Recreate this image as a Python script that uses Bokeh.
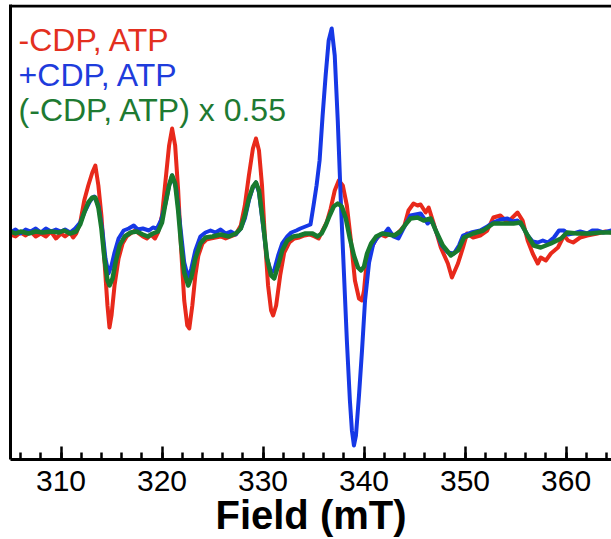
from bokeh.plotting import figure
from bokeh.models import FixedTicker, SingleIntervalTicker, Range1d, Label, Span
from bokeh.embed import file_html
from bokeh.resources import INLINE

# ---- data (field in mT, EPR intensity in arbitrary units) ----
field_red = [305.0, 305.5, 306.0, 306.5, 307.0, 307.5, 308.0, 308.5, 309.0, 309.5, 310.0, 310.4,
             310.9, 311.2, 311.5, 311.9, 312.3, 312.7, 313.1, 313.4, 313.7, 314.0, 314.3, 314.6,
             314.8, 315.0, 315.3, 315.7, 316.1, 316.5, 316.9, 317.3, 317.7, 318.1, 318.5, 318.9,
             319.3, 319.6, 320.0, 320.3, 320.7, 321.0, 321.3, 321.6, 321.9, 322.2, 322.5, 322.7,
             323.0, 323.3, 323.6, 324.0, 324.4, 324.8, 325.3, 325.8, 326.3, 326.8, 327.3, 327.8,
             328.2, 328.6, 329.0, 329.3, 329.6, 329.9, 330.2, 330.5, 330.8, 331.0, 331.3, 331.7,
             332.1, 332.6, 333.1, 333.6, 334.1, 334.6, 335.1, 335.5, 335.9, 336.3, 336.7, 337.1,
             337.5, 337.9, 338.3, 338.7, 339.1, 339.5, 339.8, 340.0, 340.2, 340.6, 341.1, 341.6,
             342.1, 342.6, 343.1, 343.6, 344.0, 344.4, 344.9, 345.3, 345.6, 346.1, 346.4, 346.9,
             347.6, 348.3, 348.7, 349.3, 349.8, 350.2, 350.8, 351.5, 352.2, 352.8, 353.5, 354.2,
             354.7, 355.2, 355.7, 356.2, 356.7, 357.2, 357.5, 358.0, 358.5, 359.2, 359.8, 360.2,
             360.7, 361.4, 362.1, 363.1, 363.9, 364.5]
int_red = [-1, -3, 1, -2, 2, -3, 0, -3, 2, -5, 0, -3,
           1, -4, 0, 11, 33, 48, 61, 68, 48, 18, -27, -72,
           -94, -82, -52, -25, -10, -3, 0, 3, 0, -3, -5, -1,
           -5, 1, 18, 48, 88, 105, 88, 43, -17, -67, -92, -95,
           -72, -42, -22, -10, -6, -5, -4, -3, -5, -3, -1, 8,
           28, 58, 85, 95, 83, 48, -7, -52, -77, -82, -72, -42,
           -19, -9, -5, -4, -2, -1, -3, -5, 3, 11, 25, 43,
           53, 48, 28, -7, -47, -65, -67, -57, -35, -17, -7, -1,
           -3, 0, -2, 3, 8, 23, 30, 28, 29, 21, 26, 10,
           -14, -30, -44, -30, -14, 0, -4, -2, 3, 16, 18, 11,
           16, 21, 13, -7, -20, -30, -24, -27, -20, -14, -2, -7,
           -9, -4, -2, 0, 2, 1]

field_blue = [305.0, 305.5, 306.0, 306.5, 307.0, 307.5, 308.0, 308.5, 309.0, 309.5, 310.0, 310.4,
              310.9, 311.4, 311.9, 312.4, 312.9, 313.3, 313.7, 314.1, 314.4, 314.7, 315.0, 315.3,
              315.7, 316.2, 316.7, 317.2, 317.6, 318.1, 318.7, 319.1, 319.5, 319.9, 320.3, 320.7,
              321.0, 321.4, 321.8, 322.2, 322.6, 322.9, 323.3, 323.8, 324.3, 324.8, 325.3, 325.8,
              326.3, 326.8, 327.3, 327.8, 328.2, 328.6, 329.0, 329.3, 329.6, 330.0, 330.4, 330.8,
              331.1, 331.5, 331.9, 332.4, 332.8, 333.3, 333.7, 334.2, 334.7, 335.0, 335.3, 335.6,
              335.9, 336.2, 336.5, 336.8, 337.1, 337.4, 337.7, 338.0, 338.3, 338.6, 338.8, 339.0,
              339.2, 339.5, 339.8, 340.1, 340.5, 340.9, 341.3, 341.7, 342.1, 342.4, 342.9, 343.4,
              343.9, 344.6, 345.1, 345.6, 346.3, 346.7, 347.1, 347.7, 348.3, 348.9, 349.4, 349.8,
              350.6, 351.5, 352.2, 352.8, 353.5, 354.2, 354.7, 355.2, 355.7, 356.2, 356.7, 357.2,
              357.7, 358.2, 358.8, 359.3, 359.8, 360.2, 360.7, 361.4, 362.1, 362.6, 363.1, 363.7,
              364.5]
int_blue = [1, 4, 0, 4, 2, 5, 1, 5, 2, 4, 2, 4,
            1, 5, 11, 23, 33, 37, 28, 3, -25, -40, -32, -19,
            -5, 3, 5, 8, 4, 5, 3, 6, 5, 13, 28, 48,
            58, 45, 8, -29, -45, -35, -17, -3, 1, 3, 1, 4,
            0, 2, -1, 5, 15, 33, 46, 51, 41, 8, -25, -39,
            -37, -22, -10, -3, 1, 3, 5, 7, 9, 28, 48, 73,
            118, 158, 193, 205, 178, 113, 33, -37, -107, -167, -197, -212,
            -202, -162, -117, -67, -29, -11, -4, -1, 1, 5, -3, -5,
            5, 18, 19, 20, 10, 13, 3, -12, -19, -20, -12, -2,
            1, 3, 7, 11, 14, 15, 12, 13, 7, -2, -8, -9,
            -7, -9, -4, 3, 3, -1, 0, 2, 0, 3, 3, 1,
            3]

field_green = [305.0, 305.5, 306.0, 306.8, 307.5, 308.2, 309.0, 309.8, 310.3, 310.9, 311.5, 311.9,
               312.3, 312.7, 313.1, 313.4, 313.7, 314.0, 314.3, 314.6, 314.8, 315.1, 315.4, 315.8,
               316.3, 316.9, 317.5, 318.1, 318.6, 319.1, 319.6, 320.0, 320.3, 320.7, 321.0, 321.3,
               321.6, 321.9, 322.2, 322.6, 322.9, 323.3, 323.8, 324.3, 325.0, 325.8, 326.6, 327.3,
               327.8, 328.2, 328.6, 329.0, 329.3, 329.6, 330.0, 330.4, 330.8, 331.1, 331.5, 331.9,
               332.4, 333.0, 333.6, 334.2, 334.9, 335.4, 335.8, 336.2, 336.6, 337.0, 337.4, 337.8,
               338.2, 338.6, 339.0, 339.4, 339.7, 340.0, 340.3, 340.7, 341.2, 341.8, 342.4, 343.0,
               343.6, 344.1, 344.6, 345.3, 345.9, 346.6, 347.1, 347.8, 348.6, 349.3, 349.9, 350.8,
               351.8, 352.8, 353.8, 354.8, 355.5, 356.2, 356.8, 357.5, 358.5, 359.5, 360.1, 361.1,
               362.4, 363.4, 364.5]
int_green = [2, 0, 2, 0, 2, 1, 2, 1, 3, 0, 2, 9,
             21, 31, 36, 36, 26, 5, -25, -47, -52, -45, -29, -12,
             -3, 1, 2, -1, -3, 0, 2, 11, 28, 48, 58, 50,
             23, -12, -39, -52, -44, -25, -10, -4, -3, -1, -3, 0,
             5, 18, 35, 47, 51, 43, 11, -25, -42, -45, -32, -17,
             -7, -3, -2, 0, 0, -3, 0, 8, 18, 27, 30, 27,
             15, -5, -22, -34, -37, -33, -20, -10, -3, 0, -1, -2,
             2, 9, 15, 16, 13, 15, 3, -12, -22, -17, -4, 0,
             3, 10, 10, 10, 11, -2, -12, -14, -10, -5, 1, 0,
             0, 1, 1]

legend_texts = ["-CDP, ATP", "+CDP, ATP", "(-CDP, ATP) x 0.55"]
legend_colors = ["#E3301F", "#1E3CDC", "#1E7A32"]
legend_y = [194, 159, 124]

x_ticks_interval = 10
x_label = "Field (mT)"

RED = "#E8291B"
BLUE = "#1638E6"
GREEN = "#187A2E"

X_START, X_END = 305, 364.5
Y_START, Y_END = -226, 229
TOP_LINE_Y = 227.5

p = figure(width=611, height=539, output_backend="svg", toolbar_location=None,
           x_range=Range1d(X_START, X_END), y_range=Range1d(Y_START, Y_END),
           min_border_left=10, min_border_right=0, min_border_top=4, min_border_bottom=0)
p.outline_line_color = None
p.grid.visible = False
p.background_fill_color = "white"
p.border_fill_color = "white"

xa = p.xaxis[0]
xa.ticker = SingleIntervalTicker(interval=x_ticks_interval, num_minor_ticks=5)
xa.axis_line_width = 3
xa.axis_line_color = "black"
xa.major_tick_in = 13
xa.major_tick_out = 0
xa.minor_tick_in = 7
xa.minor_tick_out = 0
xa.major_tick_line_width = 2.5
xa.minor_tick_line_width = 2.5
xa.major_tick_line_color = "black"
xa.minor_tick_line_color = "black"
xa.major_label_text_font = "Liberation Sans"
xa.major_label_text_font_size = "30px"
xa.major_label_text_color = "black"
xa.major_label_standoff = 11
xa.axis_label = x_label
xa.axis_label_text_font = "Liberation Sans"
xa.axis_label_text_font_style = "bold"
xa.axis_label_text_font_size = "40px"
xa.axis_label_text_color = "black"
xa.axis_label_standoff = -1

ya = p.yaxis[0]
ya.ticker = FixedTicker(ticks=[])
ya.axis_line_width = 3
ya.axis_line_color = "black"
ya.major_tick_in = 0
ya.major_tick_out = 0
ya.minor_tick_in = 0
ya.minor_tick_out = 0
ya.major_label_standoff = 0
ya.major_label_text_font_size = "0px"

# top frame line
p.add_layout(Span(location=TOP_LINE_Y, dimension="width", line_color="black", line_width=3))

p.line(field_red, int_red, line_color=RED, line_width=4, line_join="round")
p.line(field_blue, int_blue, line_color=BLUE, line_width=4, line_join="round")
p.line(field_green, int_green, line_color=GREEN, line_width=4.5, line_join="round")

for t, c, yy in zip(legend_texts, legend_colors, legend_y):
    p.add_layout(Label(x=305.8, y=yy, text=t, text_color=c, text_font="Liberation Sans",
                       text_font_size="32px", text_baseline="alphabetic", text_align="left"))

open("out.html", "w").write(file_html(p, INLINE))
